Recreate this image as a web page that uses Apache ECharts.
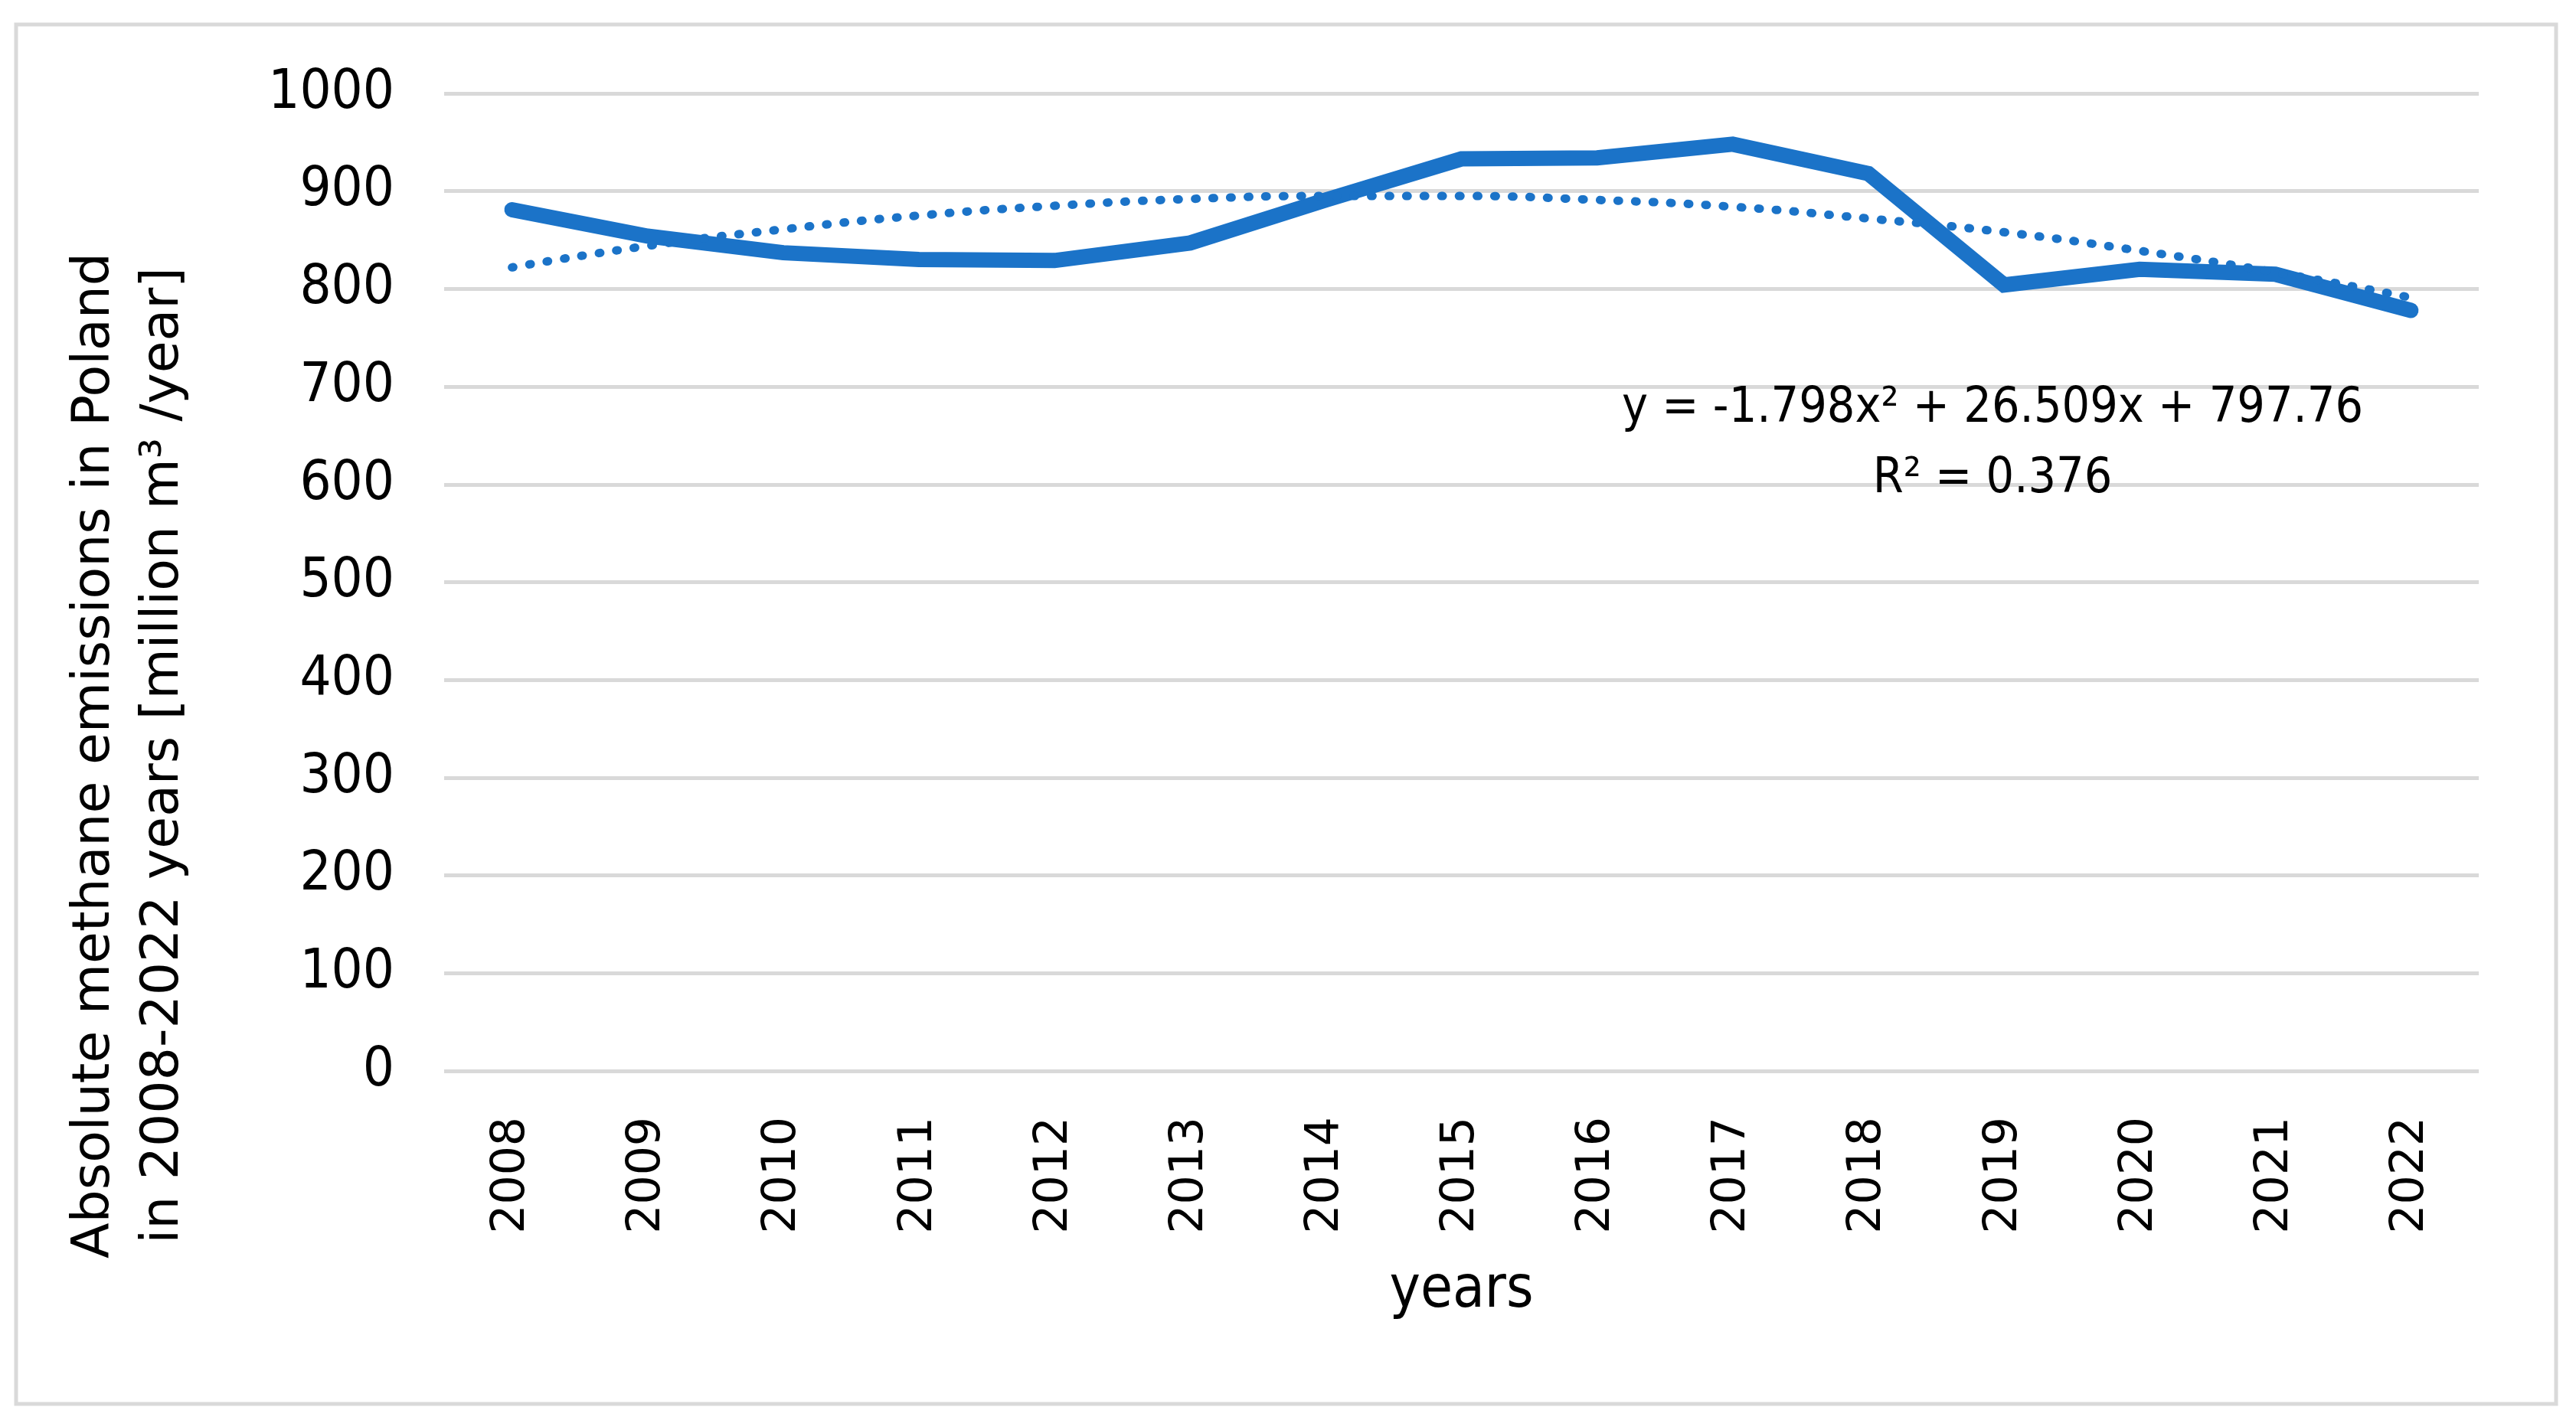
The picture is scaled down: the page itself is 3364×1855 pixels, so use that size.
<!DOCTYPE html>
<html>
<head>
<meta charset="utf-8">
<script src="https://cdn.jsdelivr.net/npm/echarts@6/dist/echarts.min.js"></script>
<style>
html,body{margin:0;padding:0;background:#fff;}
#chart{width:3364px;height:1855px;}
</style>
</head>
<body>
<div id="chart"></div>
<script>
const years = ['2008','2009','2010','2011','2012','2013','2014','2015','2016','2017','2018','2019','2020','2021','2022'];
const emissions = [881, 854, 837, 830, 829, 847, 891, 933, 934, 948, 918, 804, 820, 815, 778];
const trendValues = [822, 844, 861, 875, 885, 892, 895, 895, 891, 884, 872, 858, 839, 817, 791];
const yTicks = {min: 0, max: 1000, interval: 100};
const equationText = 'y = -1.798x² + 26.509x + 797.76';
const r2Text = 'R² = 0.376';
const yTitle = 'Absolute methane emissions in Poland\nin 2008-2022 years [million m³ /year]';
const xTitle = 'years';

const blue = '#1b73c8';
const narrow = '"DejaVu Sans Condensed", "Liberation Sans Narrow", "Liberation Sans", sans-serif';
const wide = '"DejaVu Sans", Verdana, sans-serif';

const chart = echarts.init(document.getElementById('chart'));
chart.setOption({
  backgroundColor: '#ffffff',
  animation: false,
  grid: {left: 580, right: 127, top: 122, bottom: 456},
  xAxis: {
    type: 'category',
    data: years,
    boundaryGap: true,
    axisLine: {show: false},
    axisTick: {show: false},
    axisLabel: {rotate: 90, margin: 60, fontFamily: wide, fontSize: 60, color: '#000'},
    name: xTitle,
    nameLocation: 'middle',
    nameGap: 250,
    nameTextStyle: {fontFamily: narrow, fontSize: 76, color: '#000', verticalAlign: 'top'}
  },
  yAxis: {
    type: 'value',
    min: yTicks.min, max: yTicks.max, interval: yTicks.interval,
    axisLine: {show: false},
    axisTick: {show: false},
    axisLabel: {margin: 65, fontFamily: narrow, fontSize: 72, color: '#000', formatter: v => String(v)},
    splitLine: {lineStyle: {color: '#d9d9d9', width: 5}}
  },
  series: [
    {
      name: 'emissions',
      type: 'line',
      data: emissions,
      showSymbol: false,
      lineStyle: {color: blue, width: 20, join: 'miter', cap: 'round'},
      itemStyle: {color: blue},
      z: 2
    },
    {
      name: 'trend',
      type: 'line',
      data: trendValues,
      smooth: true,
      showSymbol: false,
      lineStyle: {color: blue, width: 11, type: [2, 21], cap: 'round'},
      itemStyle: {color: blue},
      z: 3
    }
  ],
  graphic: [
    {type: 'rect', z: 100, shape: {x: 21, y: 32, width: 3317, height: 1802},
     style: {fill: 'none', stroke: '#d9d9d9', lineWidth: 5}, silent: true},
    {type: 'text', z: 100, x: 169, y: 987, rotation: Math.PI / 2,
     style: {text: yTitle, fontFamily: wide, fontSize: 68, lineHeight: 90, fill: '#000', align: 'center', verticalAlign: 'middle'}},
    {type: 'text', z: 100, x: 2602, y: 534,
     style: {text: equationText, fontFamily: narrow, fontSize: 64, fill: '#000', align: 'center', verticalAlign: 'middle'}},
    {type: 'text', z: 100, x: 2602, y: 626,
     style: {text: r2Text, fontFamily: narrow, fontSize: 64, fill: '#000', align: 'center', verticalAlign: 'middle'}}
  ]
});
</script>
</body>
</html>
